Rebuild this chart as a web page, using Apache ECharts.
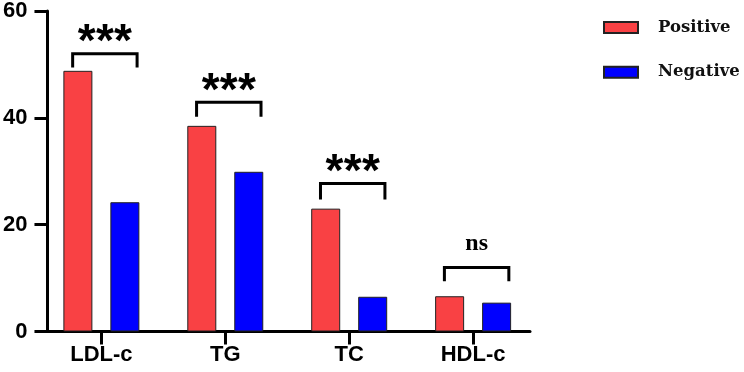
<!DOCTYPE html>
<html>
<head>
<meta charset="utf-8">
<script src="https://cdn.jsdelivr.net/npm/echarts@6/dist/echarts.min.js"></script>
<style>
  html, body { margin: 0; padding: 0; background: #fff; }
  #chart { width: 744px; height: 372px; }
</style>
</head>
<body>
<div id="chart"></div>
<script>
// categories and values
const categories = ['LDL-c', 'TG', 'TC', 'HDL-c'];
const positiveVals = [48.8, 38.5, 23.0, 6.6];
const negativeVals = [24.2, 29.9, 6.5, 5.4];
// significance brackets: top line level, leg end level, label
const bracketTop = [52.0, 42.9, 27.7, 12.0];
const bracketLeg = [49.4, 40.2, 24.7, 9.4];
const sigLabels = ['***', '***', '***', 'ns'];
const yTicks = [0, 20, 40, 60];

const catIdx = categories.map((c, i) => i);
const chart = echarts.init(document.getElementById('chart'));

// x is a value axis so the axis line can stop short of the outer bands, like the original
const option = {
  animation: false,
  grid: { left: 44, right: 214, top: 10, bottom: 40.5, containLabel: false },
  legend: {
    data: ['Positive', 'Negative'],
    orient: 'vertical',
    left: 603,
    top: 17.5,
    padding: 0,
    icon: 'rect',
    itemWidth: 34,
    itemHeight: 11,
    itemGap: 24.7,
    textStyle: {
      fontFamily: 'DejaVu Serif',
      fontWeight: 'bold',
      fontSize: 16.5,
      lineHeight: 20,
      color: '#111',
      padding: [0, 0, 0, 15]
    }
  },
  xAxis: {
    type: 'value',
    min: -0.435,
    max: 3.459,
    splitLine: { show: false },
    axisLine: { onZero: false, lineStyle: { color: '#000', width: 3 } },
    axisTick: { customValues: catIdx, length: 13, lineStyle: { color: '#000', width: 3 } },
    axisLabel: {
      customValues: catIdx,
      formatter: v => categories[v],
      color: '#000', fontFamily: 'Liberation Sans', fontWeight: 'bold', fontSize: 22, margin: 12
    }
  },
  yAxis: {
    type: 'value',
    min: 0,
    max: 60,
    interval: 20,
    splitLine: { show: false },
    axisLine: { show: true, onZero: false, lineStyle: { color: '#000', width: 3 } },
    axisTick: { show: true, length: 13, lineStyle: { color: '#000', width: 3 } },
    axisLabel: {
      color: '#000', fontFamily: 'Liberation Sans', fontWeight: 'bold', fontSize: 22, margin: 20,
      formatter: v => (yTicks.indexOf(v) >= 0 ? String(v) : '')
    }
  },
  series: [
    {
      name: 'Positive',
      type: 'bar',
      data: positiveVals.map((v, i) => [i, v]),
      barWidth: 29,
      barGap: '62%',
      itemStyle: { color: '#F94144', borderColor: '#222', borderWidth: 1 }
    },
    {
      name: 'Negative',
      type: 'bar',
      data: negativeVals.map((v, i) => [i, v]),
      barWidth: 29,
      itemStyle: { color: '#0000FF', borderColor: '#222', borderWidth: 1 }
    },
    {
      name: 'sig',
      type: 'custom',
      data: catIdx.map(i => [i, bracketTop[i], bracketLeg[i]]),
      encode: { x: 0, y: 1 },
      clip: false,
      z: 5,
      renderItem: function (params, api) {
        const top = api.coord([api.value(0), api.value(1)]);
        const leg = api.coord([api.value(0), api.value(2)]);
        const band = api.size([1, 0])[0];
        const half = band * 0.26;
        const cx = top[0] + 3.5;
        const label = sigLabels[params.dataIndex];
        const children = [
          {
            type: 'polyline',
            shape: {
              points: [[cx - half, leg[1]], [cx - half, top[1]], [cx + half, top[1]], [cx + half, leg[1]]]
            },
            style: { stroke: '#000', lineWidth: 3, fill: null }
          }
        ];
        if (label.indexOf('*') >= 0) {
          // stars are spaced apart a little more than the font does
          for (let k = 0; k < label.length; k++) {
            children.push({
              type: 'text',
              style: {
                text: '*',
                x: cx + (k - (label.length - 1) / 2) * 18.2,
                y: top[1] - 10,
                align: 'center',
                verticalAlign: 'middle',
                fill: '#000',
                font: 'bold 46px "Liberation Sans"'
              }
            });
          }
        } else {
          children.push({
            type: 'text',
            style: {
              text: label,
              x: cx,
              y: top[1] - 12,
              align: 'center',
              verticalAlign: 'bottom',
              fill: '#000',
              font: 'bold 24px "Liberation Serif"'
            }
          });
        }
        return { type: 'group', children: children };
      }
    }
  ]
};

chart.setOption(option);
</script>
</body>
</html>
